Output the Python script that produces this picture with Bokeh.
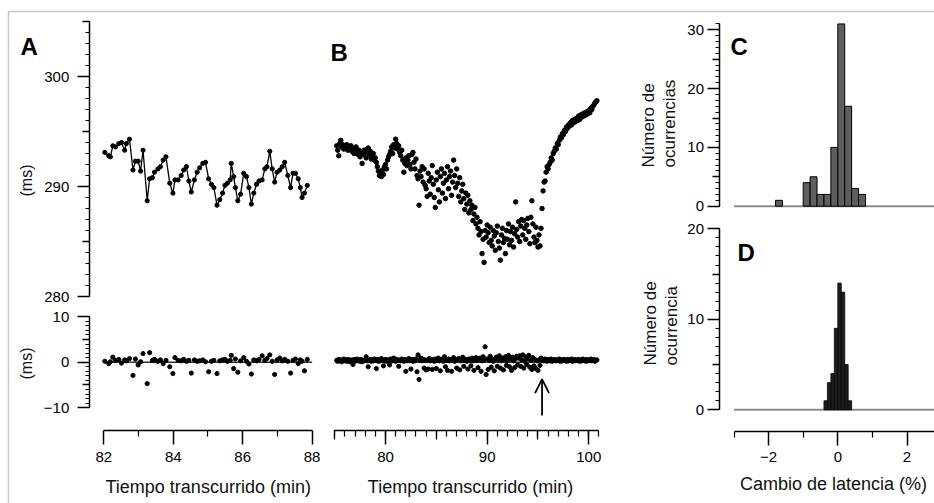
import math
from bokeh.plotting import figure
from bokeh.models import (Range1d, LinearAxis, FixedTicker, Label, Arrow,
                          OpenHead, BoxAnnotation)
from bokeh.embed import file_html
from bokeh.resources import INLINE

# ---------------------------------------------------------------- data
# Panel A: control recording (latency, ms) and successive change (ms)
a_time = [82.03, 82.14, 82.19, 82.26, 82.34, 82.43, 82.51, 82.60, 82.65, 82.74,
          82.84, 82.91, 82.99, 83.06, 83.13, 83.25, 83.32, 83.40, 83.46, 83.56,
          83.63, 83.71, 83.79, 83.90, 83.99, 84.05, 84.14, 84.23, 84.30, 84.38,
          84.45, 84.52, 84.61, 84.69, 84.76, 84.85, 84.93, 85.02, 85.10, 85.17,
          85.26, 85.34, 85.42, 85.49, 85.56, 85.64, 85.67, 85.74, 85.79, 85.86,
          85.94, 86.03, 86.11, 86.18, 86.25, 86.32, 86.40, 86.47, 86.56, 86.64,
          86.70, 86.78, 86.85, 86.92, 86.99, 87.07, 87.14, 87.21, 87.30, 87.38,
          87.45, 87.52, 87.60, 87.66, 87.71, 87.78, 87.86]
a_latency = [293.1, 292.8, 292.7, 293.7, 293.6, 293.9, 294.0, 293.3, 293.9, 294.3,
             291.5, 292.3, 292.3, 291.4, 293.3, 288.7, 290.7, 290.8, 291.3, 291.6,
             291.8, 292.4, 292.7, 290.3, 289.4, 290.6, 290.6, 291.0, 291.5, 291.8,
             290.5, 289.5, 290.6, 291.3, 291.7, 292.1, 292.2, 290.7, 290.2, 289.9,
             288.3, 288.8, 289.4, 290.1, 290.3, 290.6, 292.1, 290.9, 289.9, 288.7,
             289.3, 291.2, 290.9, 289.9, 288.4, 289.4, 290.2, 290.5, 290.6, 291.6,
             291.8, 293.2, 291.6, 290.4, 291.3, 291.5, 291.8, 292.2, 291.0, 289.9,
             291.2, 291.2, 290.7, 289.9, 289.0, 289.4, 290.1]
a_change = [0.2, -0.3, 0.1, 1.1, 0.4, 0.6, -0.2, 0.5, 0.3, 0.8,
            -2.9, 0.7, -0.6, 0.1, 1.9, -4.7, 2.1, 0.4, 0.6, 0.2,
            0.5, -0.3, 0.4, -1.0, -2.5, 1.0, 0.4, 0.3, 0.6, 0.2,
            0.4, -2.4, 0.5, 0.2, 0.3, 0.5, 0.1, -2.1, 0.2, 0.4,
            -2.5, 0.3, 0.5, 0.6, 0.2, 0.4, 1.5, -1.4, 0.7, -2.2,
            0.3, 1.0, 0.2, -0.4, -2.6, 0.5, 0.3, 0.6, 1.4, 0.4,
            0.8, 1.6, 0.2, -2.7, 0.5, 0.9, 0.3, 0.6, 0.2, -2.4,
            0.4, 0.7, -0.3, 0.5, 0.2, -1.9, 0.6]

# Panel B: recording with conditioning (latency, ms) and successive change (ms)
b_time = [75.2, 75.3, 75.4, 75.5, 75.6, 75.7, 75.8, 75.9,
          76.0, 76.1, 76.2, 76.3, 76.4, 76.5, 76.6, 76.7, 76.8, 76.9,
          77.0, 77.1, 77.2, 77.3, 77.4, 77.5, 77.6, 77.7, 77.8, 77.9,
          78.0, 78.1, 78.2, 78.3, 78.4, 78.5, 78.6, 78.7, 78.8, 78.9,
          79.0, 79.1, 79.2, 79.3, 79.4, 79.5, 79.6, 79.7, 79.8, 79.9,
          80.0, 80.1, 80.2, 80.3, 80.4, 80.5, 80.6, 80.7, 80.8, 80.9,
          81.0, 81.1, 81.2, 81.3, 81.4, 81.5, 81.6, 81.7, 81.8, 81.9,
          82.0, 82.1, 82.2, 82.3, 82.4, 82.5, 82.6, 82.7, 82.8, 82.9,
          83.0, 83.1, 83.2, 83.3, 83.4, 83.5, 83.6, 83.7, 83.8, 83.9,
          84.0, 84.1, 84.2, 84.3, 84.4, 84.5, 84.6, 84.7, 84.8, 84.9,
          85.0, 85.1, 85.2, 85.3, 85.4, 85.5, 85.6, 85.7, 85.8, 85.9,
          86.0, 86.1, 86.2, 86.3, 86.4, 86.5, 86.6, 86.7, 86.8, 86.9,
          87.0, 87.1, 87.2, 87.3, 87.4, 87.5, 87.6, 87.7, 87.8, 87.9,
          88.0, 88.1, 88.2, 88.3, 88.4, 88.5, 88.6, 88.7, 88.8, 88.9,
          89.0, 89.1, 89.2, 89.3, 89.4, 89.5, 89.6, 89.7, 89.8, 89.9,
          90.0, 90.1, 90.2, 90.3, 90.4, 90.5, 90.6, 90.7, 90.8, 90.9,
          91.0, 91.1, 91.2, 91.3, 91.4, 91.5, 91.6, 91.7, 91.8, 91.9,
          92.0, 92.1, 92.2, 92.3, 92.4, 92.5, 92.6, 92.7, 92.8, 92.9,
          93.0, 93.1, 93.2, 93.3, 93.4, 93.5, 93.6, 93.7, 93.8, 93.9,
          94.0, 94.1, 94.2, 94.3, 94.4, 94.5, 94.6, 94.7, 94.8, 94.9,
          95.0, 95.1, 95.2, 95.3, 95.4, 95.5, 95.6, 95.7, 95.8, 95.9,
          96.0, 96.1, 96.2, 96.3, 96.4, 96.5, 96.6, 96.7, 96.8, 96.9,
          97.0, 97.1, 97.2, 97.3, 97.4, 97.5, 97.6, 97.7, 97.8, 97.9,
          98.0, 98.1, 98.2, 98.3, 98.4, 98.5, 98.6, 98.7, 98.8, 98.9,
          99.0, 99.1, 99.2, 99.3, 99.4, 99.5, 99.6, 99.7, 99.8, 99.9,
          100.0, 100.1, 100.2, 100.3, 100.4, 100.5, 100.6, 100.7, 100.8]
b_latency = [293.7, 293.3, 292.8, 293.9, 294.2, 293.6, 293.8, 293.4,
             293.7, 293.5, 293.8, 293.3, 293.6, 293.4, 293.7, 293.2, 293.5, 293.0,
             293.4, 293.6, 293.1, 292.9, 293.3, 292.7, 293.0, 292.1, 292.9, 293.3,
             293.1, 292.6, 293.4, 293.5, 292.9, 293.2, 292.5, 292.8, 293.0, 292.4,
             292.6, 292.2, 291.8, 291.4, 291.0, 291.3, 290.9, 291.5, 291.1, 291.8,
             292.0, 291.6, 292.4, 292.7, 292.9, 293.2, 293.6, 293.0, 293.8, 293.5,
             294.3, 293.9, 293.4, 293.7, 293.1, 292.8, 293.3, 292.4, 291.3, 292.1,
             292.6, 291.9, 292.4, 292.8, 292.0, 291.6, 292.9, 293.1, 292.2, 291.6,
             292.5, 291.0, 290.7, 288.3, 291.4, 290.9, 291.8, 290.4, 291.6, 290.1,
             289.8, 289.1, 291.2, 290.5, 289.3, 290.8, 291.9, 290.2, 289.0, 288.1,
             290.6, 291.3, 289.7, 288.6, 290.9, 291.6, 289.4, 290.3, 291.2, 288.9,
             290.6, 291.8, 289.8, 290.9, 291.4, 289.2, 290.4, 292.4, 291.0, 289.9,
             291.6, 290.3, 289.1, 290.8, 288.6, 289.6, 290.2, 288.9, 287.9, 289.4,
             288.4, 289.2, 287.6, 288.7, 287.9, 288.3, 286.9, 287.5, 288.1, 286.6,
             287.2, 286.2, 285.6, 286.8, 285.9, 283.9, 285.2, 283.1, 286.0, 285.4,
             286.5, 285.8, 284.9, 286.3, 285.1, 284.6, 286.0, 285.5, 284.2, 285.8,
             286.4, 285.0, 284.4, 283.3, 285.6, 286.2, 284.9, 285.3, 283.9, 286.0,
             285.2, 286.6, 284.7, 285.9, 285.1, 286.3, 284.5, 285.7, 288.6, 286.1,
             285.4, 286.8, 285.0, 286.4, 287.0, 285.6, 286.9, 286.2, 285.2, 286.5,
             287.1, 285.9, 284.8, 287.2, 288.7, 286.6, 285.4, 284.9, 286.3, 285.1,
             284.5, 285.6, 284.6, 286.2, 288.0, 289.6, 290.4, 290.5, 291.3, 291.8,
             291.6, 292.0, 292.2, 292.6, 292.4, 293.0, 293.2, 293.5, 293.4, 293.9,
             293.8, 294.2, 294.5, 294.4, 294.8, 294.7, 295.1, 295.0, 295.4, 295.3,
             295.6, 295.5, 295.8, 295.6, 296.0, 295.8, 296.1, 295.9, 296.2, 296.0,
             296.4, 296.1, 296.5, 296.3, 296.6, 296.4, 296.7, 296.5, 296.8, 296.6,
             296.9, 296.7, 297.1, 297.0, 297.3, 297.4, 297.6, 297.7, 297.8]
b_change = [0.4, 0.2, 0.6, 0.3, 0.5, 0.1, 0.4, 0.7,
            0.3, 0.5, 0.2, 0.6, 0.4, 0.1, 0.5, 0.3, -0.5, 0.6,
            0.2, 0.4, 0.7, 0.3, 0.5, 0.2, 0.6, 0.1, 0.4, 0.3,
            0.5, 1.2, 0.3, -1.0, 0.4, 0.6, 0.2, 0.5, 0.3, 0.7,
            0.4, -1.4, 0.6, 0.2, 0.5, 0.3, 0.8, 0.4, -0.8, 0.3,
            0.6, 0.2, 0.5, 0.4, -0.6, 0.7, 0.3, 0.5, 0.9, 0.4,
            0.2, 0.6, 0.4, -0.9, 0.5, 0.3, 0.7, 0.4, 0.2, 0.6,
            -2.0, 0.3, 0.5, 0.8, 0.4, -1.5, 0.6, 0.2, 0.5, 0.3,
            0.7, -2.1, 1.6, -3.8, 0.4, 0.9, 0.3, 0.6, -1.3, 0.5,
            -1.7, 0.4, -1.5, 0.8, 0.3, 0.6, -1.6, 0.5, 0.2, 0.7,
            -1.4, 0.4, 0.9, 0.3, -1.9, 0.6, 0.5, 0.2, 1.2, -1.0,
            0.4, -1.8, 0.7, 0.3, 0.6, -2.0, 0.5, 1.0, 0.2, 0.4,
            -1.3, 0.6, 0.8, -1.7, 0.3, 0.5, 1.1, -0.9, 0.4, 0.6,
            0.2, -1.5, 0.7, 0.4, -0.8, 0.9, 0.3, -1.8, 0.5, 1.0,
            0.4, -1.2, 0.6, 0.9, -2.0, 0.3, 1.2, 0.5, 3.4, -2.7,
            0.7, -1.6, 0.4, 1.3, -1.1, 0.6, 0.2, -1.9, 0.8, 1.1,
            -0.9, 0.5, 1.4, -1.3, 0.3, 0.9, -1.7, 0.6, 1.2, -0.7,
            0.4, 1.5, -1.0, 0.7, -1.8, 1.1, 0.3, -1.2, 0.8, 1.3,
            -0.6, 0.9, 1.4, -0.9, 0.5, 1.6, -1.3, 0.2, 1.2, -0.5,
            0.8, 1.5, -1.1, 0.4, -1.6, 1.0, -0.8, 0.6, -1.4, 0.3,
            -1.8, 0.5, -0.7, 0.9, 0.4, 0.6, 0.3, 0.7, 0.5, 0.2,
            0.6, 0.4, 0.3, 0.7, 0.2, 0.5, 0.4, 0.6, 0.3, 0.5,
            0.4, 0.7, 0.2, 0.5, 0.3, 0.6, 0.4, 0.5, 0.2, 0.6,
            0.3, 0.5, 0.4, 0.7, 0.2, 0.4, 0.6, 0.3, 0.5, 0.4,
            0.6, 0.2, 0.5, 0.3, 0.7, 0.4, 0.5, 0.2, 0.6, 0.3,
            0.5, 0.4, 0.7, 0.3, 0.5, 0.6, 0.2, 0.4, 0.5]
stimulus_time = 95.4          # arrow in panel B (min)
arrow_span = (-11.7, -3.7)    # arrow extent (ms)

# Panels C and D: histograms of latency change (%)
c_bin_left = [-1.8, -1.0, -0.8, -0.6, -0.4, -0.2, 0.0, 0.2, 0.4, 0.6]
c_counts = [1, 4, 5, 2, 2, 10, 31, 17, 3, 2]
c_bin_width = 0.2
d_bin_left = [-0.4, -0.3, -0.2, -0.1, 0.0, 0.1, 0.2, 0.3]
d_counts = [1, 3, 4, 9, 14, 13, 5, 1]
d_bin_width = 0.1

# Tick values
a_top_ticks = [280, 290, 300]
a_bot_ticks = [-10, 0, 10]
a_x_ticks = [82, 84, 86, 88]
b_x_ticks = [80, 90, 100]
c_y_ticks = [0, 10, 20, 30]
d_y_ticks = [0, 10, 20]
cd_x_ticks = [-2, 0, 2]

# ---------------------------------------------------------------- layout
W, H = 934, 503
FONT = "Liberation Sans"

# (value, pixel, pixels per unit) anchors for each panel's scale
A_X = (82.0, 103.3, 34.72)
B_X = (80.0, 385.0, 10.165)
CD_X = (0.0, 837.3, 34.6)
TOP_Y = (300.0, 76.0, 11.0)
BOT_Y = (0.0, 361.7, 4.55)
C_Y = (0.0, 205.7, 5.88)
D_Y = (0.0, 409.3, 9.05)


def xr(v0, px0, ppu):
    return Range1d(v0 - px0 / ppu, v0 + (W - px0) / ppu)


def yr(v0, py0, ppu):
    return Range1d(v0 - (H - py0) / ppu, v0 + py0 / ppu)


def x_at(anchor, px):
    v0, px0, ppu = anchor
    return v0 + (px - px0) / ppu


def y_at(anchor, py):
    v0, py0, ppu = anchor
    return v0 + (py0 - py) / ppu


p = figure(width=W, height=H, x_range=Range1d(0, W), y_range=Range1d(H, 0),
           x_axis_type=None, y_axis_type=None, toolbar_location=None, tools="",
           output_backend="svg", min_border=0, outline_line_color=None,
           background_fill_color="white", border_fill_color="white")
p.extra_x_ranges = {"ax": xr(*A_X), "bx": xr(*B_X), "cdx": xr(*CD_X)}
p.extra_y_ranges = {"top": yr(*TOP_Y), "bot": yr(*BOT_Y),
                    "cy": yr(*C_Y), "dy": yr(*D_Y)}


def add_axis(side, xname, yname, loc, bounds, major, minor, medium=None,
             major_out=12, minor_out=4, medium_out=7, standoff=6):
    ax = LinearAxis(x_range_name=xname, y_range_name=yname,
                    fixed_location=loc, bounds=bounds,
                    ticker=FixedTicker(ticks=major, minor_ticks=minor))
    ax.axis_line_color = "black"
    ax.axis_line_width = 1.5
    ax.major_tick_line_color = "black"
    ax.major_tick_line_width = 1.5
    ax.major_tick_in = 0
    ax.major_tick_out = major_out
    ax.minor_tick_line_color = "black"
    ax.minor_tick_line_width = 1.2
    ax.minor_tick_in = 0
    ax.minor_tick_out = minor_out
    ax.major_label_text_font = FONT
    ax.major_label_text_font_size = "15px"
    ax.major_label_text_color = "black"
    ax.major_label_standoff = standoff
    p.add_layout(ax, side)
    if medium:
        mx = LinearAxis(x_range_name=xname, y_range_name=yname,
                        fixed_location=loc, bounds=bounds,
                        ticker=FixedTicker(ticks=medium, minor_ticks=[]))
        mx.axis_line_color = None
        mx.major_tick_line_color = "black"
        mx.major_tick_line_width = 1.3
        mx.major_tick_in = 0
        mx.major_tick_out = medium_out
        mx.minor_tick_line_color = None
        mx.major_label_text_color = None
        p.add_layout(mx, side)


# Frame border of the figure
p.add_layout(BoxAnnotation(left=8, right=3 * W, top=11, bottom=3 * H,
                           fill_color=None, line_color="#444444",
                           line_width=1.5))

# ---- Panel A
a_axis_x = x_at(A_X, 88.8)
add_axis("left", "ax", "top", a_axis_x, (280, 305), a_top_ticks,
         list(range(280, 306)), medium=[285, 295, 305], standoff=8)
add_axis("left", "ax", "bot", a_axis_x, (-10, 10), a_bot_ticks,
         list(range(-10, 11)), medium=[-5, 5], standoff=8)
x_axis_y = y_at(BOT_Y, 430.0)
add_axis("below", "ax", "bot", x_axis_y, (a_x_ticks[0], a_x_ticks[-1]),
         a_x_ticks, [83, 85, 87], major_out=14, minor_out=6, standoff=7)

p.line(a_time, a_latency, x_range_name="ax", y_range_name="top",
       line_color="black", line_width=1.3)
p.scatter(a_time, a_latency, x_range_name="ax", y_range_name="top",
          size=4.2, color="black")
p.line([a_x_ticks[0], a_x_ticks[-1]], [0, 0], x_range_name="ax",
       y_range_name="bot", line_color="#333333", line_width=1.6)
p.scatter(a_time, a_change, x_range_name="ax", y_range_name="bot",
          size=4.2, color="black")

# ---- Panel B
add_axis("below", "bx", "bot", x_axis_y, (75, 101), b_x_ticks,
         list(range(75, 102)), medium=[75, 85, 95], major_out=14,
         minor_out=6, medium_out=9, standoff=7)
p.scatter(b_time, b_latency, x_range_name="bx", y_range_name="top",
          size=4.5, color="black")
p.line([b_time[0], b_time[-1]], [0, 0], x_range_name="bx",
       y_range_name="bot", line_color="#333333", line_width=1.6)
p.scatter(b_time, b_change, x_range_name="bx", y_range_name="bot",
          size=4.2, color="black")
p.add_layout(Arrow(end=OpenHead(size=14, line_width=1.8, line_color="black"),
                   x_start=stimulus_time, y_start=arrow_span[0],
                   x_end=stimulus_time, y_end=arrow_span[1],
                   x_range_name="bx", y_range_name="bot",
                   line_width=1.8, line_color="black"))

# ---- Panels C and D
cd_axis_x = x_at(CD_X, 718.5)
add_axis("left", "cdx", "cy", cd_axis_x, (0, 31), c_y_ticks,
         list(range(0, 32)), medium=[5, 15, 25], standoff=3)
add_axis("left", "cdx", "dy", cd_axis_x, (0, 20), d_y_ticks,
         list(range(0, 21)), medium=[5, 15], standoff=3)
d_axis_y = y_at(D_Y, 430.7)
add_axis("below", "cdx", "dy", d_axis_y, (-3, 3), cd_x_ticks,
         [-3, -1, 1, 3], major_out=14, minor_out=6, standoff=7)

hist_lo, hist_hi = -3, 3
p.line([hist_lo, hist_hi], [0, 0], x_range_name="cdx", y_range_name="cy",
       line_color="#8c8c8c", line_width=2)
p.line([hist_lo, hist_hi], [0, 0], x_range_name="cdx", y_range_name="dy",
       line_color="#8c8c8c", line_width=2)
p.quad(left=c_bin_left, right=[v + c_bin_width for v in c_bin_left],
       bottom=[0] * len(c_counts), top=c_counts, x_range_name="cdx",
       y_range_name="cy", fill_color="#5e5e5e", line_color="black",
       line_width=1)
p.quad(left=d_bin_left, right=[v + d_bin_width for v in d_bin_left],
       bottom=[0] * len(d_counts), top=d_counts, x_range_name="cdx",
       y_range_name="dy", fill_color="#1e1e1e", line_color="black",
       line_width=0.8)

# ---------------------------------------------------------------- texts
def label(x, y, text, size, align="center", baseline="middle", angle=0.0,
          style="normal", color="#111111"):
    p.add_layout(Label(x=x, y=y, text=text, text_font=FONT,
                       text_font_size=size, text_align=align,
                       text_baseline=baseline, angle=angle,
                       text_font_style=style, text_color=color))


for x, y, t in [(20, 45.5, "A"), (330, 52, "B"), (730, 45.5, "C"),
                (737, 252, "D")]:
    label(x, y, t, "24px", align="left", baseline="alphabetic",
          style="bold", color="black")

label(26, 180, "(ms)", "16px", angle=math.pi / 2)
label(26, 363, "(ms)", "16px", angle=math.pi / 2)
label(207.7, 486.7, "Tiempo transcurrido (min)", "18px")
label(470, 486.7, "Tiempo transcurrido (min)", "18px")
label(833, 483.3, "Cambio de latencia (%)", "18px")
label(647.5, 167, "Número de", "17px", align="left", angle=math.pi / 2)
label(669, 167, "ocurrencias", "17px", align="left", angle=math.pi / 2)
label(649.5, 365, "Número de", "17px", align="left", angle=math.pi / 2)
label(671, 365, "ocurrencia", "17px", align="left", angle=math.pi / 2)

open("out.html", "w").write(file_html(p, INLINE))
